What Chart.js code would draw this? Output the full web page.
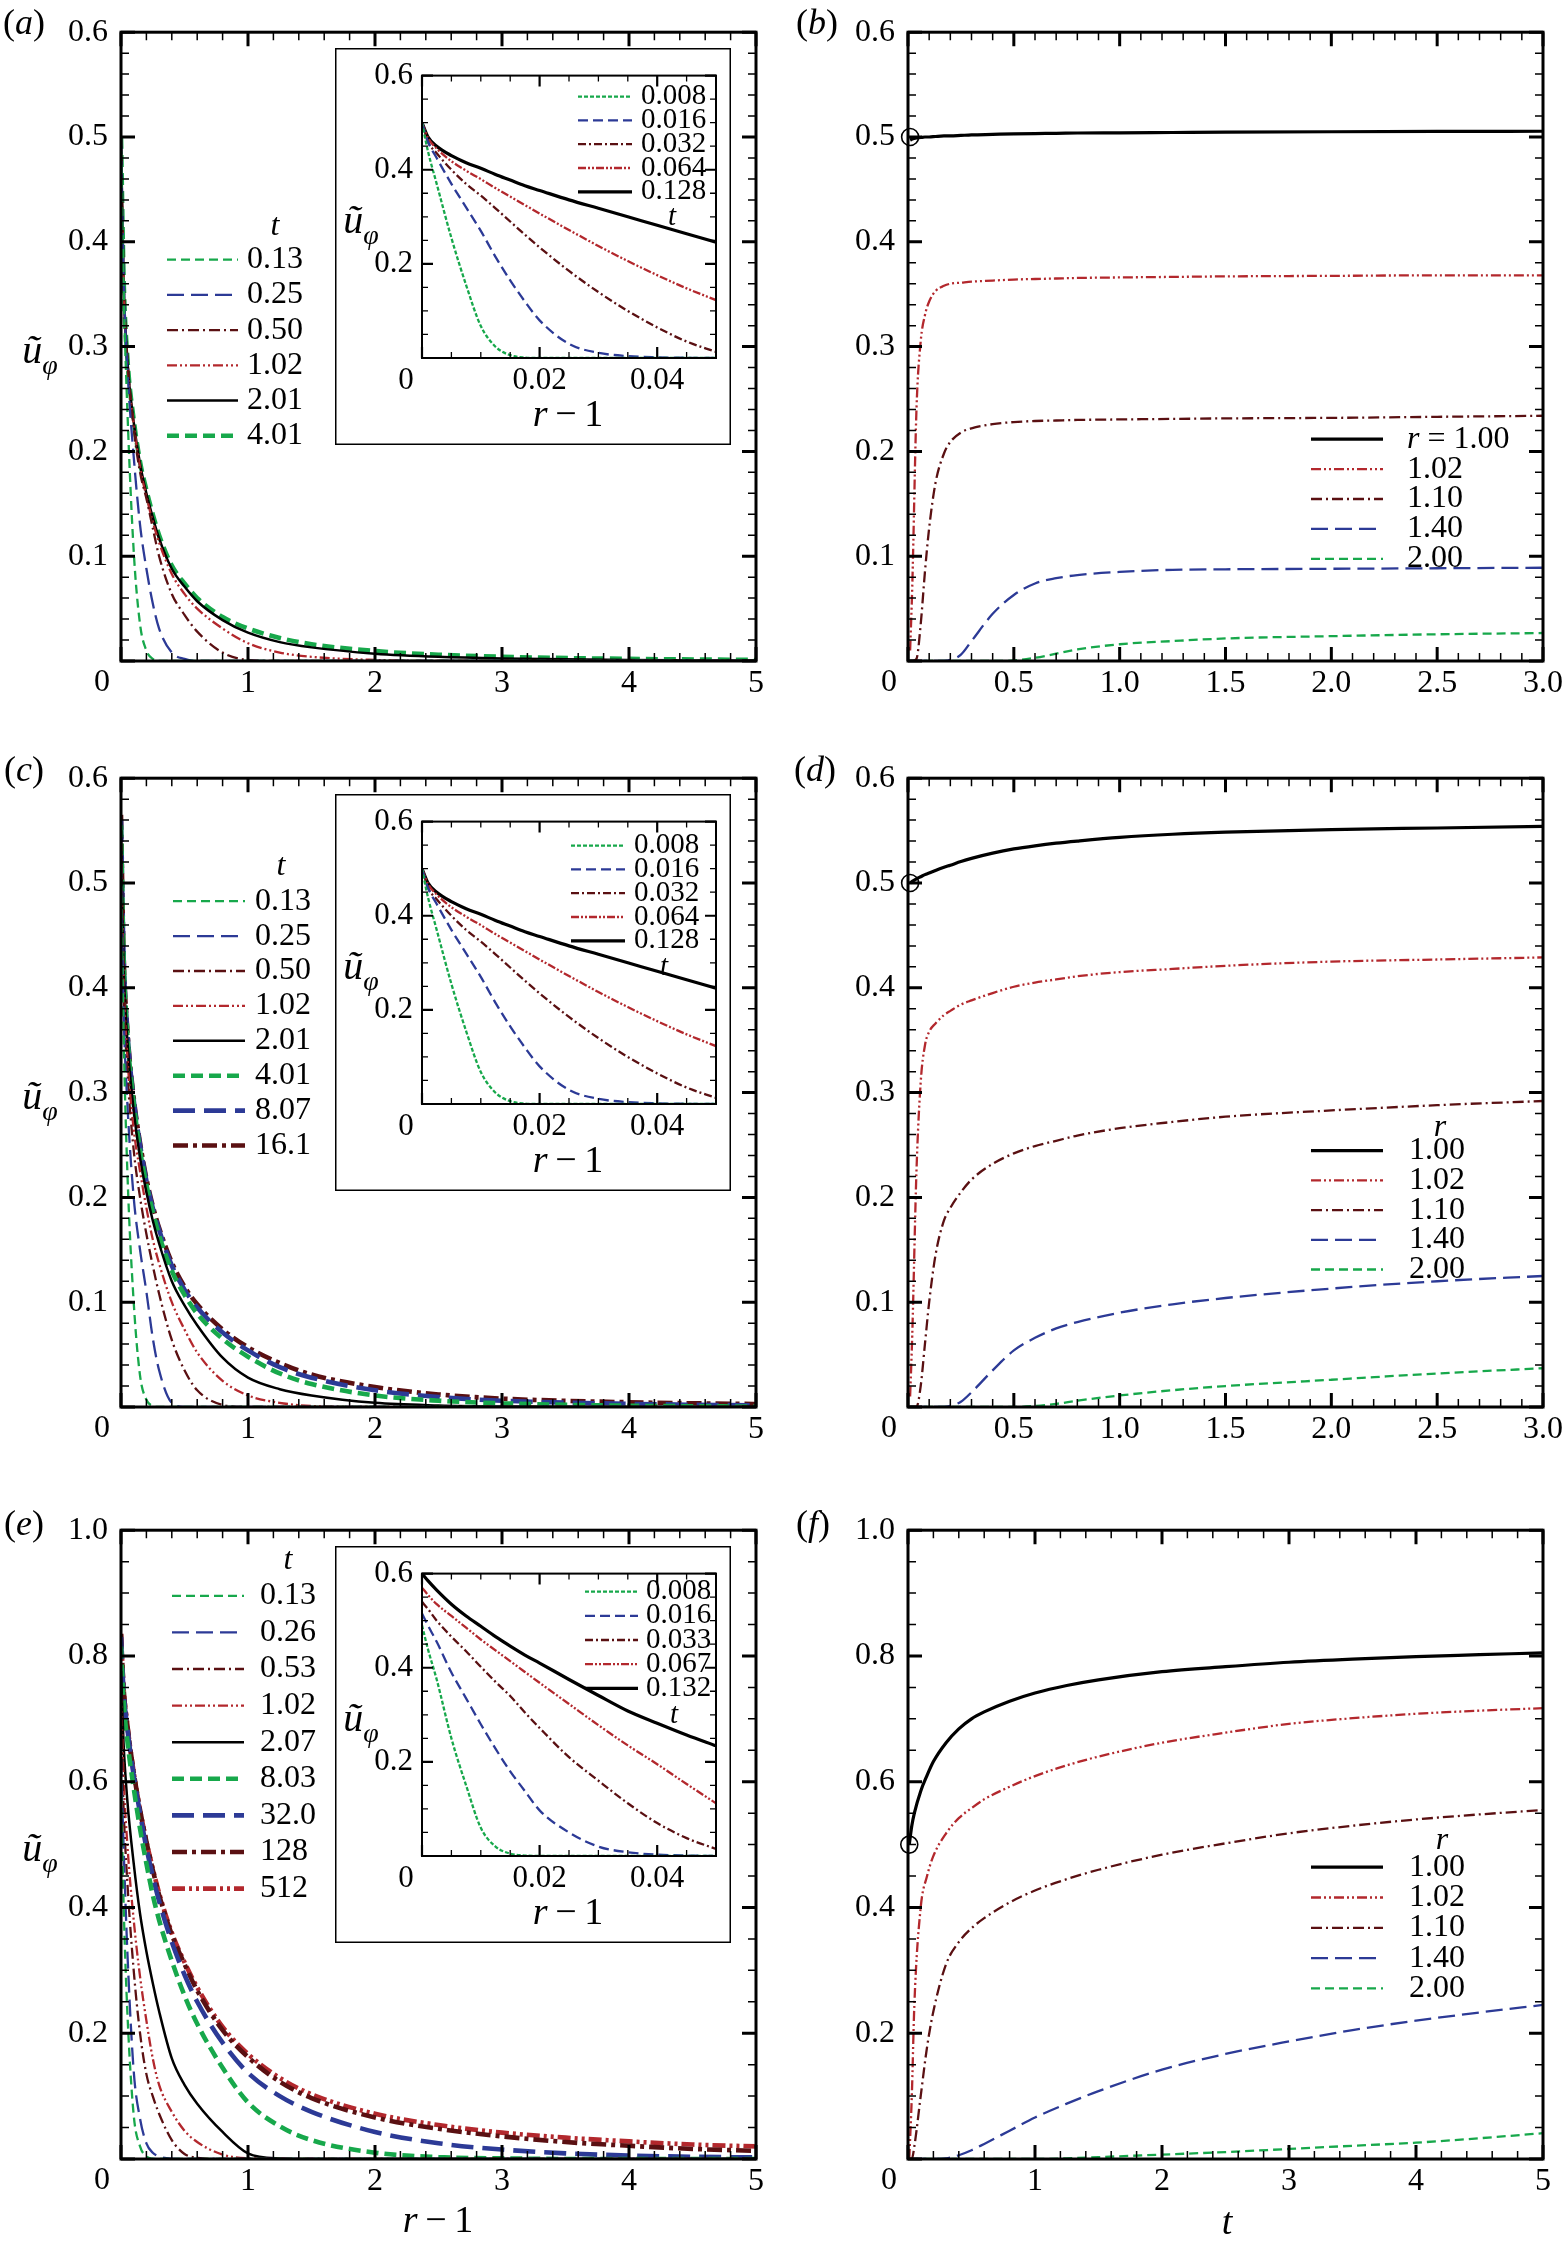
<!DOCTYPE html>
<html>
<head>
<meta charset="utf-8">
<title>u_phi profiles and histories</title>
<script src="https://cdn.jsdelivr.net/npm/chart.js@4.4.1/dist/chart.umd.min.js"></script>
<style>
  html, body { margin: 0; padding: 0; background: #fff; }
  #page { position: relative; width: 1567px; height: 2245px; overflow: hidden; background: #fff;
          font-family: 'Liberation Serif', 'Times New Roman', serif; color: #000; }
  #page canvas { position: absolute; }
  .txt { position: absolute; white-space: nowrap; line-height: 1; transform: translate(-50%, -50%); }
  .plab { font-size: 36px; }
  .ytitle { font-size: 40px; }
  .ytitle .sb { font-size: 28px; position: relative; top: 0.38em; }
  .xtitle { font-size: 38px; }
</style>
</head>
<body>
<div id="page"></div>
<script>
// ---------- data ----------

// (a) profiles u_phi against r-1
const xA = [0, 0.02, 0.05, 0.1, 0.15, 0.2, 0.25, 0.3, 0.4, 0.5, 0.6, 0.8, 1, 1.25, 1.5, 2, 2.5, 3, 4, 5];
const tA = ['0.13', '0.25', '0.50', '1.02', '2.01', '4.01'];
const uA013 = [0.5, 0.36, 0.24, 0.105, 0.035, 0.01, 0.002, 0, 0, 0, 0, 0, 0, 0, 0, 0, 0, 0, 0, 0];
const uA025 = [0.5, 0.37, 0.28, 0.195, 0.13, 0.088, 0.055, 0.031, 0.008, 0.002, 0, 0, 0, 0, 0, 0, 0, 0, 0, 0];
const uA050 = [0.5, 0.365, 0.29, 0.222, 0.18, 0.155, 0.127, 0.1, 0.064, 0.044, 0.028, 0.008, 0.001, 0, 0, 0, 0, 0, 0, 0];
const uA102 = [0.5, 0.365, 0.285, 0.226, 0.185, 0.157, 0.133, 0.113, 0.083, 0.064, 0.05, 0.031, 0.017, 0.008, 0.004, 0.001, 0, 0, 0, 0];
const uA201 = [0.5, 0.366, 0.287, 0.228, 0.188, 0.16, 0.137, 0.117, 0.088, 0.071, 0.057, 0.039, 0.027, 0.018, 0.013, 0.007, 0.004, 0.0025, 0.001, 0.0004];
const uA401 = [0.5, 0.367, 0.289, 0.23, 0.19, 0.163, 0.14, 0.12, 0.091, 0.074, 0.06, 0.042, 0.031, 0.022, 0.016, 0.0095, 0.006, 0.004, 0.002, 0.001];

// insets: near-wall profiles at short times
const xI = [0, 0.001, 0.0025, 0.005, 0.0075, 0.01, 0.0125, 0.015, 0.0175, 0.02, 0.025, 0.03, 0.035, 0.04, 0.045, 0.05];
const tIA = ['0.008', '0.016', '0.032', '0.064', '0.128'];
const iA0008 = [0.5, 0.44, 0.37, 0.255, 0.155, 0.068, 0.024, 0.006, 0.001, 0, 0, 0, 0, 0, 0, 0];
const iA0016 = [0.5, 0.46, 0.425, 0.37, 0.32, 0.27, 0.215, 0.165, 0.12, 0.08, 0.03, 0.011, 0.004, 0.0015, 0.0005, 0];
const iA0032 = [0.5, 0.46, 0.435, 0.4, 0.37, 0.345, 0.318, 0.29, 0.262, 0.235, 0.185, 0.14, 0.1, 0.065, 0.035, 0.013];
const iA0064 = [0.5, 0.468, 0.445, 0.418, 0.398, 0.38, 0.361, 0.343, 0.325, 0.307, 0.272, 0.238, 0.206, 0.176, 0.148, 0.123];
const iA0128 = [0.5, 0.47, 0.45, 0.43, 0.415, 0.403, 0.39, 0.378, 0.366, 0.356, 0.336, 0.318, 0.3, 0.282, 0.264, 0.246];
// the (c) inset shows the same short-time curves as (a)

const tIE = ['0.008', '0.016', '0.033', '0.067', '0.132'];
const iE0008 = [0.49, 0.44, 0.375, 0.25, 0.15, 0.06, 0.02, 0.005, 0.001, 0, 0, 0, 0, 0, 0, 0];
const iE0016 = [0.515, 0.49, 0.455, 0.39, 0.335, 0.28, 0.228, 0.18, 0.138, 0.097, 0.05, 0.02, 0.008, 0.003, 0.001, 0];
const iE0033 = [0.54, 0.525, 0.5, 0.466, 0.435, 0.402, 0.37, 0.34, 0.305, 0.272, 0.21, 0.16, 0.112, 0.07, 0.038, 0.015];
const iE0067 = [0.57, 0.555, 0.535, 0.51, 0.485, 0.46, 0.437, 0.414, 0.391, 0.368, 0.323, 0.278, 0.235, 0.195, 0.153, 0.112];
const iE0132 = [0.6, 0.585, 0.565, 0.535, 0.51, 0.488, 0.466, 0.446, 0.427, 0.41, 0.375, 0.341, 0.308, 0.282, 0.257, 0.234];

// (c) profiles, same r-1 grid as (a)
const tC = ['0.13', '0.25', '0.50', '1.02', '2.01', '4.01', '8.07', '16.1'];
const uC013 = [0.515, 0.36, 0.225, 0.1, 0.03, 0.007, 0.001, 0, 0, 0, 0, 0, 0, 0, 0, 0, 0, 0, 0, 0];
const uC025 = [0.52, 0.38, 0.29, 0.2, 0.15, 0.11, 0.066, 0.035, 0.004, 0, 0, 0, 0, 0, 0, 0, 0, 0, 0, 0];
const uC050 = [0.53, 0.4, 0.32, 0.245, 0.2, 0.165, 0.135, 0.108, 0.064, 0.035, 0.016, 0.002, 0, 0, 0, 0, 0, 0, 0, 0];
const uC102 = [0.54, 0.412, 0.335, 0.265, 0.225, 0.19, 0.16, 0.137, 0.1, 0.074, 0.052, 0.025, 0.011, 0.004, 0.001, 0, 0, 0, 0, 0];
const uC201 = [0.55, 0.425, 0.35, 0.283, 0.238, 0.205, 0.178, 0.156, 0.12, 0.097, 0.078, 0.047, 0.028, 0.017, 0.011, 0.004, 0.0015, 0.0005, 0, 0];
const uC401 = [0.555, 0.43, 0.355, 0.29, 0.245, 0.212, 0.186, 0.164, 0.13, 0.107, 0.089, 0.065, 0.048, 0.032, 0.022, 0.011, 0.006, 0.0035, 0.0012, 0.0004];
const uC807 = [0.56, 0.432, 0.358, 0.293, 0.25, 0.216, 0.19, 0.169, 0.135, 0.112, 0.095, 0.071, 0.054, 0.038, 0.028, 0.016, 0.0095, 0.006, 0.003, 0.0015];
const uC161 = [0.565, 0.434, 0.36, 0.295, 0.252, 0.218, 0.192, 0.171, 0.138, 0.115, 0.098, 0.074, 0.057, 0.042, 0.031, 0.019, 0.012, 0.008, 0.0045, 0.0028];

// (e) profiles
const xE = [0, 0.02, 0.05, 0.1, 0.15, 0.2, 0.25, 0.3, 0.4, 0.5, 0.6, 0.8, 1, 1.25, 1.5, 2, 2.5, 3, 3.5, 4, 4.5, 5];
const tE = ['0.13', '0.26', '0.53', '1.02', '2.07', '8.03', '32.0', '128', '512'];
const uE013 = [0.6, 0.41, 0.234, 0.07, 0.02, 0.004, 0.0005, 0, 0, 0, 0, 0, 0, 0, 0, 0, 0, 0, 0, 0, 0, 0];
const uE026 = [0.635, 0.5, 0.33, 0.14, 0.064, 0.025, 0.01, 0.004, 0.0005, 0, 0, 0, 0, 0, 0, 0, 0, 0, 0, 0, 0, 0];
const uE053 = [0.703, 0.56, 0.44, 0.3, 0.2, 0.135, 0.1, 0.072, 0.03, 0.008, 0.002, 0, 0, 0, 0, 0, 0, 0, 0, 0, 0, 0];
const uE102 = [0.741, 0.609, 0.5, 0.38, 0.29, 0.22, 0.16, 0.118, 0.075, 0.045, 0.027, 0.007, 0.001, 0, 0, 0, 0, 0, 0, 0, 0, 0];
const uE207 = [0.776, 0.662, 0.57, 0.47, 0.39, 0.33, 0.28, 0.235, 0.16, 0.118, 0.088, 0.043, 0.009, 0.0008, 0, 0, 0, 0, 0, 0, 0, 0];
const uE803 = [0.815, 0.73, 0.665, 0.59, 0.525, 0.47, 0.42, 0.38, 0.315, 0.26, 0.215, 0.145, 0.09, 0.052, 0.03, 0.01, 0.003, 0.001, 0, 0, 0, 0];
const uE320 = [0.83, 0.745, 0.685, 0.61, 0.55, 0.495, 0.45, 0.41, 0.345, 0.293, 0.25, 0.185, 0.137, 0.1, 0.075, 0.043, 0.025, 0.015, 0.009, 0.0055, 0.0035, 0.0025];
const uE128 = [0.835, 0.75, 0.69, 0.615, 0.555, 0.505, 0.46, 0.42, 0.357, 0.31, 0.268, 0.205, 0.162, 0.123, 0.097, 0.066, 0.048, 0.036, 0.027, 0.021, 0.016, 0.013];
const uE512 = [0.835, 0.75, 0.69, 0.615, 0.555, 0.505, 0.462, 0.423, 0.36, 0.313, 0.273, 0.21, 0.167, 0.129, 0.103, 0.072, 0.054, 0.042, 0.034, 0.028, 0.023, 0.02];

// (b), (d) histories u_phi against t at fixed r
const tB = [0.01, 0.02, 0.04, 0.06, 0.08, 0.1, 0.13, 0.17, 0.2, 0.25, 0.3, 0.4, 0.5, 0.6, 0.7, 0.8, 1, 1.25, 1.5, 2, 2.5, 3];
const rLab = ['1.00', '1.02', '1.10', '1.40', '2.00'];
const uB100 = [0.497, 0.498, 0.499, 0.4995, 0.5, 0.5, 0.5005, 0.501, 0.501, 0.5015, 0.502, 0.5025, 0.503, 0.5033, 0.5035, 0.5038, 0.504, 0.5043, 0.5046, 0.505, 0.5053, 0.5055];
const uB102 = [0.01, 0.07, 0.24, 0.305, 0.33, 0.343, 0.353, 0.358, 0.36, 0.361, 0.362, 0.363, 0.364, 0.3645, 0.365, 0.3655, 0.366, 0.3665, 0.367, 0.3675, 0.368, 0.368];
const uB110 = [0, 0, 0.002, 0.035, 0.085, 0.127, 0.17, 0.198, 0.209, 0.218, 0.222, 0.226, 0.228, 0.229, 0.2295, 0.23, 0.2305, 0.231, 0.2315, 0.232, 0.233, 0.234];
const uB140 = [0, 0, 0, 0, 0, 0, 0, 0, 0.001, 0.006, 0.019, 0.045, 0.063, 0.074, 0.079, 0.082, 0.085, 0.087, 0.0875, 0.088, 0.0885, 0.089];
const uB200 = [0, 0, 0, 0, 0, 0, 0, 0, 0, 0, 0, 0, 0.0005, 0.003, 0.007, 0.011, 0.016, 0.019, 0.0215, 0.0237, 0.0255, 0.0267];

const uD100 = [0.5, 0.5015, 0.504, 0.506, 0.508, 0.5095, 0.512, 0.515, 0.517, 0.5205, 0.5235, 0.5285, 0.5325, 0.5355, 0.538, 0.54, 0.5435, 0.5465, 0.5485, 0.551, 0.5525, 0.554];
const uD102 = [0.01, 0.068, 0.225, 0.31, 0.345, 0.358, 0.366, 0.374, 0.378, 0.384, 0.388, 0.395, 0.401, 0.405, 0.408, 0.411, 0.415, 0.418, 0.421, 0.425, 0.427, 0.429];
const uD110 = [0, 0, 0, 0.02, 0.06, 0.1, 0.145, 0.178, 0.19, 0.205, 0.217, 0.232, 0.242, 0.249, 0.254, 0.259, 0.266, 0.272, 0.277, 0.283, 0.288, 0.292];
const uD140 = [0, 0, 0, 0, 0, 0, 0, 0, 0.001, 0.005, 0.014, 0.035, 0.054, 0.066, 0.075, 0.081, 0.09, 0.098, 0.104, 0.113, 0.12, 0.125];
const uD200 = [0, 0, 0, 0, 0, 0, 0, 0, 0, 0, 0, 0, 0, 0.001, 0.003, 0.006, 0.011, 0.016, 0.02, 0.026, 0.032, 0.037];

// (f) histories
const tF = [0.01, 0.03, 0.05, 0.1, 0.15, 0.2, 0.3, 0.4, 0.5, 0.6, 0.8, 1, 1.25, 1.5, 2, 2.5, 3, 3.5, 4, 4.5, 5];
const uF100 = [0.5, 0.53, 0.55, 0.585, 0.61, 0.632, 0.662, 0.684, 0.7, 0.711, 0.728, 0.741, 0.753, 0.762, 0.775, 0.783, 0.79, 0.795, 0.799, 0.802, 0.805];
const uF102 = [0, 0.1, 0.245, 0.4, 0.45, 0.482, 0.518, 0.542, 0.558, 0.572, 0.592, 0.609, 0.626, 0.64, 0.662, 0.678, 0.692, 0.701, 0.708, 0.713, 0.717];
const uF110 = [0, 0, 0.02, 0.1, 0.178, 0.235, 0.31, 0.345, 0.367, 0.383, 0.408, 0.427, 0.445, 0.46, 0.484, 0.502, 0.518, 0.53, 0.54, 0.548, 0.555];
const uF140 = [0, 0, 0, 0, 0, 0, 0.001, 0.006, 0.014, 0.024, 0.045, 0.066, 0.088, 0.108, 0.142, 0.167, 0.187, 0.205, 0.22, 0.233, 0.245];
const uF200 = [0, 0, 0, 0, 0, 0, 0, 0, 0, 0, 0, 0, 0.001, 0.003, 0.007, 0.011, 0.016, 0.021, 0.026, 0.033, 0.041];

// initial wall value marked with an open circle in (b), (d), (f)
const startT = 0.01, startU = 0.5;

// ---------- styles ----------
const SERIF = "'Liberation Serif', 'Times New Roman', serif";
const GREEN = '#17a84b', BLUE = '#2c3a96', BROWN = '#5a1012', RED = '#b3282d', BLACK = '#000000';
const LINE = {
  g: { color: GREEN, width: 2.3, dash: [9, 5] },
  b: { color: BLUE, width: 2.3, dash: [17, 7] },
  k: { color: BROWN, width: 2.3, dash: [11, 4, 2, 4] },
  r: { color: RED, width: 2.3, dash: [10, 3, 2, 3, 2, 3] },
  s: { color: BLACK, width: 2.5, dash: [] },
  S: { color: BLACK, width: 3.2, dash: [] },
  G: { color: GREEN, width: 4.6, dash: [12, 6] },
  B: { color: BLUE, width: 4.6, dash: [22, 9] },
  K: { color: BROWN, width: 4.6, dash: [15, 5, 4, 5] },
  R: { color: RED, width: 4.6, dash: [13, 4, 3, 4, 3, 4] },
  gi: { color: GREEN, width: 2.3, dash: [4, 2] },
  bi: { color: BLUE, width: 2.3, dash: [10, 5] },
  ki: { color: BROWN, width: 2.3, dash: [8, 3, 2, 3] },
  ri: { color: RED, width: 2.3, dash: [8, 2, 2, 2, 2, 2] },
  si: { color: BLACK, width: 3.2, dash: [] }
};

Chart.defaults.font.family = SERIF;
Chart.defaults.font.size = 32;
Chart.defaults.color = '#000';

const page = document.getElementById('page');

function series(xs, ys, st, label) {
  return {
    label: label,
    data: xs.map((x, i) => ({ x: x, y: ys[i] })),
    borderColor: st.color, borderWidth: st.width, borderDash: st.dash,
    pointRadius: 0, fill: false, cubicInterpolationMode: 'monotone',
    borderCapStyle: 'butt', borderJoinStyle: 'round'
  };
}

function startMark() {
  return {
    data: [{ x: startT, y: startU }], showLine: false, clip: false,
    pointRadius: 8.5, pointBorderWidth: 1.6, pointBorderColor: '#000',
    pointBackgroundColor: 'rgba(0,0,0,0)', borderColor: '#000'
  };
}

// border, inward ticks on four sides, corner "0" and line legend
function tickRun(ctx, sc, a, horiz, step, major, f) {
  const n = Math.round((sc.max - sc.min) / step);
  for (let i = 0; i <= n; i++) {
    const v = sc.min + i * step;
    const isMaj = Math.abs(v / major - Math.round(v / major)) < 1e-6;
    const len = isMaj ? f.majLen : f.minLen;
    ctx.lineWidth = isMaj ? f.majW : f.minW;
    const p = sc.getPixelForValue(v);
    ctx.beginPath();
    if (horiz) {
      ctx.moveTo(p, a.bottom); ctx.lineTo(p, a.bottom - len);
      ctx.moveTo(p, a.top); ctx.lineTo(p, a.top + len);
    } else {
      ctx.moveTo(a.left, p); ctx.lineTo(a.left + len, p);
      ctx.moveTo(a.right, p); ctx.lineTo(a.right - len, p);
    }
    ctx.stroke();
  }
}

const frame = {
  id: 'frame',
  beforeDraw(chart) {
    const f = chart.canvas._frame;
    if (!f.box) return;
    const ctx = chart.ctx;
    ctx.save();
    ctx.fillStyle = '#fff';
    ctx.fillRect(0, 0, chart.width, chart.height);
    ctx.strokeStyle = '#000';
    ctx.lineWidth = 1.5;
    ctx.strokeRect(0.75, 0.75, chart.width - 1.5, chart.height - 1.5);
    ctx.restore();
  },
  afterDatasetsDraw(chart) {
    const f = chart.canvas._frame;
    const ctx = chart.ctx, a = chart.chartArea;
    const sx = chart.scales.x, sy = chart.scales.y;
    ctx.save();
    ctx.strokeStyle = '#000';
    ctx.setLineDash([]);
    tickRun(ctx, sx, a, true, f.xMinor, f.xMajor, f);
    tickRun(ctx, sy, a, false, f.yMinor, f.yMajor, f);
    ctx.lineWidth = f.border;
    ctx.strokeRect(a.left, a.top, a.right - a.left, a.bottom - a.top);

    ctx.fillStyle = '#000';
    ctx.font = f.tickSize + 'px ' + SERIF;
    ctx.textAlign = 'center';
    ctx.textBaseline = 'middle';
    ctx.fillText('0', a.left + f.zeroDx, a.bottom + f.zeroDy);

    const lg = f.legend;
    if (lg) {
      let k = 0;
      chart.data.datasets.forEach(ds => {
        if (!ds.label) return;
        const y = a.top + lg.y0 + k * lg.dy;
        ctx.strokeStyle = ds.borderColor;
        ctx.lineWidth = ds.borderWidth;
        ctx.setLineDash(ds.borderDash || []);
        ctx.beginPath();
        ctx.moveTo(a.left + lg.x0, y);
        ctx.lineTo(a.left + lg.x1, y);
        ctx.stroke();
        ctx.setLineDash([]);
        ctx.textAlign = 'left';
        let tx = a.left + lg.tx;
        if (k === 0 && lg.prefix) {
          ctx.font = 'italic ' + lg.size + 'px ' + SERIF;
          ctx.fillText(lg.prefix, tx, y);
          tx += ctx.measureText(lg.prefix).width;
          ctx.font = lg.size + 'px ' + SERIF;
          ctx.fillText(' = ', tx, y);
          tx += ctx.measureText(' = ').width;
        }
        ctx.font = lg.size + 'px ' + SERIF;
        ctx.fillText(ds.label, tx, y);
        k++;
      });
      if (lg.title) {
        ctx.font = 'italic ' + lg.size + 'px ' + SERIF;
        ctx.textAlign = 'center';
        ctx.fillText(lg.title, a.left + lg.titleX, a.top + lg.titleY);
      }
    }
    ctx.restore();
  }
};

function fmt1(v) { return Math.abs(v) < 1e-9 ? '' : v.toFixed(1); }
function fmt2(v) { return Math.abs(v) < 1e-9 ? '' : v.toFixed(2); }
function fmtInt(v) { return Math.abs(v) < 1e-9 ? '' : String(Math.round(v)); }

function makeChart(box, plot, cfg) {
  const cv = document.createElement('canvas');
  cv.width = box.w; cv.height = box.h;
  cv.style.left = box.x + 'px'; cv.style.top = box.y + 'px';
  cv.style.width = box.w + 'px'; cv.style.height = box.h + 'px';
  cv._frame = cfg.frame;
  page.appendChild(cv);
  const L = plot.l - box.x, T = plot.t - box.y;
  const R = box.w - L - plot.w, B = box.h - T - plot.h;
  return new Chart(cv, {
    type: 'line',
    data: { datasets: cfg.datasets },
    plugins: [frame],
    options: {
      responsive: false, animation: false, events: [],
      layout: { padding: { left: 0, top: T, right: R, bottom: 0 } },
      plugins: { legend: { display: false }, tooltip: { enabled: false } },
      scales: {
        x: {
          type: 'linear', min: cfg.x.min, max: cfg.x.max,
          grid: { display: false, drawTicks: false }, border: { display: false },
          ticks: { stepSize: cfg.x.step, autoSkip: false, maxRotation: 0, minRotation: 0,
                   includeBounds: false, padding: cfg.x.pad, font: { size: cfg.font },
                   callback: cfg.x.fmt },
          afterFit: s => { s.height = B; }
        },
        y: {
          type: 'linear', min: cfg.y.min, max: cfg.y.max,
          grid: { display: false, drawTicks: false }, border: { display: false },
          ticks: { stepSize: cfg.y.step, autoSkip: false, includeBounds: false,
                   padding: cfg.y.pad, font: { size: cfg.font }, callback: cfg.y.fmt },
          afterFit: s => { s.width = L; }
        }
      }
    }
  });
}

function addText(html, x, y, cls) {
  const d = document.createElement('div');
  d.className = 'txt ' + cls;
  d.style.left = x + 'px';
  d.style.top = y + 'px';
  d.innerHTML = html;
  page.appendChild(d);
}

// ---------- layout ----------
const ROWS = [24, 770, 1522];
const PH = 637, PW = 635;
const COLS = [{ x: 0, w: 783, l: 121 }, { x: 783, w: 784, l: 908 }];

function mainFrame(xMinor, xMajor, yMinor, yMajor, legend) {
  return { border: 3, majLen: 14, minLen: 8, majW: 3, minW: 1.5,
           xMinor, xMajor, yMinor, yMajor, tickSize: 32, zeroDx: -19, zeroDy: 22, legend };
}

function mainPanel(col, row, x, y, frameCfg, datasets) {
  const c = COLS[col], top = ROWS[row];
  return makeChart({ x: c.x, y: top - 24, w: c.w, h: 741 },
                   { l: c.l, t: top, w: PW, h: PH },
                   { font: 32, x: x, y: y, frame: frameCfg, datasets: datasets });
}

function insetPanel(row, xs, curves, legend) {
  const top = ROWS[row];
  return makeChart({ x: 335, y: top + 24, w: 396, h: 397 },
                   { l: 422, t: top + 40, w: 294, h: 294 },
                   { font: 31,
                     x: { min: 0, max: 0.05, step: 0.02, pad: 4, fmt: fmt2 },
                     y: { min: 0, max: 0.6, step: 0.2, pad: 9, fmt: fmt1 },
                     frame: { box: true, border: 2, majLen: 11, minLen: 6, majW: 2.2, minW: 1.3,
                              xMinor: 0.005, xMajor: 0.02, yMinor: 0.05, yMajor: 0.2,
                              tickSize: 31, zeroDx: -16, zeroDy: 23, legend: legend },
                     datasets: curves });
}

const xProfile = { min: 0, max: 5, step: 1, pad: 3, fmt: fmtInt };
const yLow = { min: 0, max: 0.6, step: 0.1, pad: 13, fmt: fmt1 };
const yHigh = { min: 0, max: 1.0, step: 0.2, pad: 13, fmt: fmt1 };

// (a)
mainPanel(0, 0, xProfile, yLow,
  mainFrame(0.2, 1, 0.02, 0.1, { x0: 46, x1: 117, tx: 126, y0: 227.5, dy: 35.2, size: 32, title: 't', titleX: 154, titleY: 194 }),
  [series(xA, uA013, LINE.g, tA[0]), series(xA, uA025, LINE.b, tA[1]), series(xA, uA050, LINE.k, tA[2]),
   series(xA, uA102, LINE.r, tA[3]), series(xA, uA201, LINE.s, tA[4]), series(xA, uA401, LINE.G, tA[5])]);
insetPanel(0, xI,
  [series(xI, iA0008, LINE.gi, tIA[0]), series(xI, iA0016, LINE.bi, tIA[1]), series(xI, iA0032, LINE.ki, tIA[2]),
   series(xI, iA0064, LINE.ri, tIA[3]), series(xI, iA0128, LINE.si, tIA[4])],
  { x0: 156, x1: 210, tx: 219, y0: 21, dy: 23.8, size: 29, title: 't', titleX: 250, titleY: 142 });

// (b)
mainPanel(1, 0, { min: 0, max: 3, step: 0.5, pad: 3, fmt: fmt1 }, yLow,
  mainFrame(0.1, 0.5, 0.02, 0.1, { x0: 403, x1: 475, tx: 499, y0: 407, dy: 29.9, size: 32, prefix: 'r' }),
  [series(tB, uB100, LINE.S, rLab[0]), series(tB, uB102, LINE.r, rLab[1]), series(tB, uB110, LINE.k, rLab[2]),
   series(tB, uB140, LINE.b, rLab[3]), series(tB, uB200, LINE.g, rLab[4]), startMark()]);

// (c)
mainPanel(0, 1, xProfile, yLow,
  mainFrame(0.2, 1, 0.02, 0.1, { x0: 52, x1: 124, tx: 134, y0: 123, dy: 34.9, size: 32, title: 't', titleX: 160, titleY: 88 }),
  [series(xA, uC013, LINE.g, tC[0]), series(xA, uC025, LINE.b, tC[1]), series(xA, uC050, LINE.k, tC[2]),
   series(xA, uC102, LINE.r, tC[3]), series(xA, uC201, LINE.s, tC[4]), series(xA, uC401, LINE.G, tC[5]),
   series(xA, uC807, LINE.B, tC[6]), series(xA, uC161, LINE.K, tC[7])]);
insetPanel(1, xI,
  [series(xI, iA0008, LINE.gi, tIA[0]), series(xI, iA0016, LINE.bi, tIA[1]), series(xI, iA0032, LINE.ki, tIA[2]),
   series(xI, iA0064, LINE.ri, tIA[3]), series(xI, iA0128, LINE.si, tIA[4])],
  { x0: 149, x1: 203, tx: 212, y0: 24, dy: 23.8, size: 29, title: 't', titleX: 242, titleY: 146 });

// (d)
mainPanel(1, 1, { min: 0, max: 3, step: 0.5, pad: 3, fmt: fmt1 }, yLow,
  mainFrame(0.1, 0.5, 0.02, 0.1, { x0: 403, x1: 475, tx: 501, y0: 372.5, dy: 29.7, size: 32, title: 'r', titleX: 532, titleY: 349 }),
  [series(tB, uD100, LINE.S, rLab[0]), series(tB, uD102, LINE.r, rLab[1]), series(tB, uD110, LINE.k, rLab[2]),
   series(tB, uD140, LINE.b, rLab[3]), series(tB, uD200, LINE.g, rLab[4]), startMark()]);

// (e)
mainPanel(0, 2, xProfile, yHigh,
  mainFrame(0.2, 1, 0.05, 0.2, { x0: 51, x1: 123, tx: 139, y0: 65.6, dy: 36.6, size: 32, title: 't', titleX: 167, titleY: 30 }),
  [series(xE, uE013, LINE.g, tE[0]), series(xE, uE026, LINE.b, tE[1]), series(xE, uE053, LINE.k, tE[2]),
   series(xE, uE102, LINE.r, tE[3]), series(xE, uE207, LINE.s, tE[4]), series(xE, uE803, LINE.G, tE[5]),
   series(xE, uE320, LINE.B, tE[6]), series(xE, uE128, LINE.K, tE[7]), series(xE, uE512, LINE.R, tE[8])]);
insetPanel(2, xI,
  [series(xI, iE0008, LINE.gi, tIE[0]), series(xI, iE0016, LINE.bi, tIE[1]), series(xI, iE0033, LINE.ki, tIE[2]),
   series(xI, iE0067, LINE.ri, tIE[3]), series(xI, iE0132, LINE.si, tIE[4])],
  { x0: 163, x1: 216, tx: 224, y0: 18, dy: 24.2, size: 29, title: 't', titleX: 252, titleY: 142 });

// (f)
mainPanel(1, 2, { min: 0, max: 5, step: 1, pad: 3, fmt: fmtInt }, yHigh,
  mainFrame(0.2, 1, 0.05, 0.2, { x0: 403, x1: 475, tx: 501, y0: 337, dy: 30.3, size: 32, title: 'r', titleX: 534, titleY: 310 }),
  [series(tF, uF100, LINE.S, rLab[0]), series(tF, uF102, LINE.r, rLab[1]), series(tF, uF110, LINE.k, rLab[2]),
   series(tF, uF140, LINE.b, rLab[3]), series(tF, uF200, LINE.g, rLab[4]), startMark()]);

// ---------- text outside the plot areas ----------
const UPHI = '<i>ũ</i><span class="sb"><i>φ</i></span>';
const RM1 = '<i>r</i>\u2009\u2212\u20091';
[['a', 24, 22], ['b', 817, 22], ['c', 24, 769], ['d', 815, 769], ['e', 24, 1523], ['f', 813, 1523]]
  .forEach(p => addText('(<i>' + p[0] + '</i>)', p[1], p[2], 'plab'));
ROWS.forEach(top => {
  addText(UPHI, 40, top + 326, 'ytitle');
  addText(UPHI, 361, top + 196, 'ytitle');
  addText(RM1, 568, top + 389, 'xtitle');
});
addText(RM1, 438, 2219, 'xtitle');
addText('<i>t</i>', 1227, 2221, 'xtitle');
</script>
</body>
</html>
